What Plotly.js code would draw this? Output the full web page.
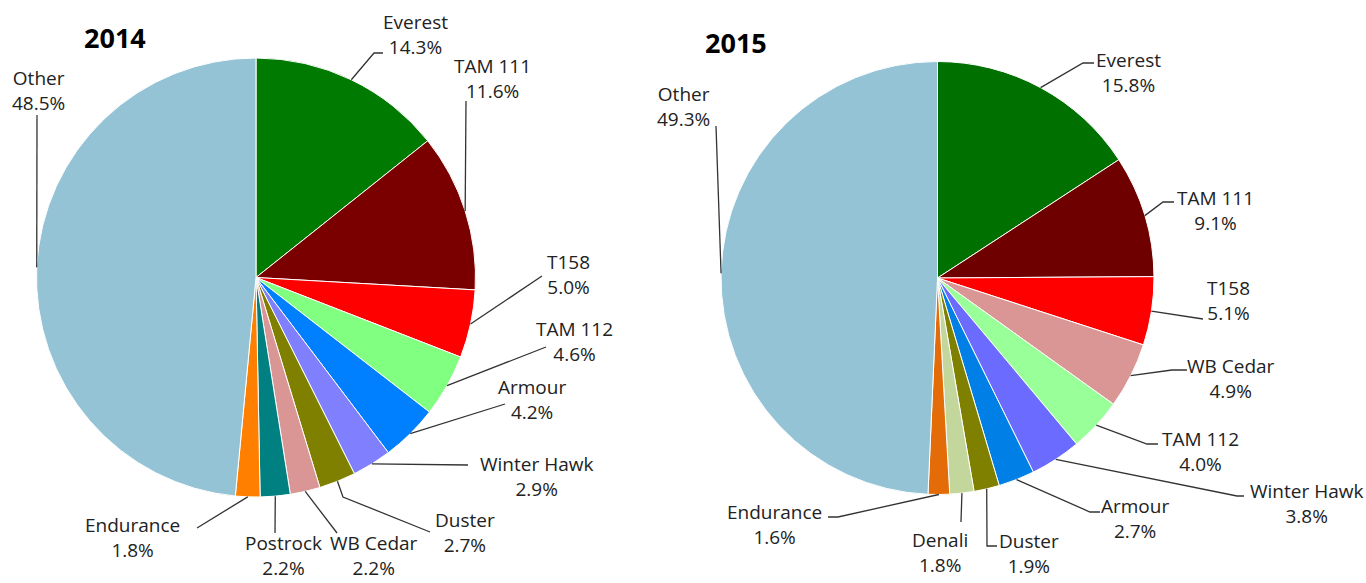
<!DOCTYPE html>
<html>
<head>
<meta charset="utf-8">
<script src="https://cdn.plot.ly/plotly-3.0.1.min.js"></script>
<style>html,body{margin:0;padding:0;background:#fff;}#chart{width:1366px;height:583px;}</style>
</head>
<body>
<div id="chart"></div>
<script>
// ---------- DATA ----------
const labels2014 = ["Everest", "TAM 111", "T158", "TAM 112", "Armour", "Winter Hawk", "Duster", "WB Cedar", "Postrock", "Endurance", "Other"];
const values2014 = [14.3, 11.6, 5.0, 4.6, 4.2, 2.9, 2.7, 2.2, 2.2, 1.8, 48.5];

const labels2015 = ["Everest", "TAM 111", "T158", "WB Cedar", "TAM 112", "Winter Hawk", "Armour", "Duster", "Denali", "Endurance", "Other"];
const values2015 = [15.8, 9.1, 5.1, 4.9, 4.0, 3.8, 2.7, 1.9, 1.8, 1.6, 49.3];

const titles = ["2014", "2015"];

// ---------- STYLE / LAYOUT ----------
const colors2014 = ["#007a00", "#7a0000", "#ff0000", "#80ff80", "#0080ff", "#8080ff", "#808000", "#d99694", "#008080", "#ff8000", "#93c3d5"];
const colors2015 = ["#007000", "#6e0000", "#ff0000", "#d99694", "#99ff99", "#6b6bff", "#0080e6", "#808000", "#c3d69b", "#e36c09", "#93c3d5"];

const W = 1366, H = 583;
const pies = [
  {cx: 256, cy: 277.5, r: 219.5},
  {cx: 937.5, cy: 278, r: 216.5}
];
const titlePos = [[115, 37], [736, 43]];

// label block centres (px) and leader path points after the rim point (px)
const labelLayout2014 = [
  {t: [415, 34],  p: [[374, 53], [383, 53]]},
  {t: [492, 78],  p: [[466, 101]]},
  {t: [568, 274], p: [[542, 276]]},
  {t: [574, 341], p: [[546, 347]]},
  {t: [532, 399], p: [[505, 404]]},
  {t: [536, 476], p: [[468, 465]]},
  {t: [465, 532], p: [[343, 497], [430, 532]]},
  {t: [374, 555], p: [[337, 533]]},
  {t: [283, 555], p: [[275, 533]]},
  {t: [132, 537], p: [[197, 528]]},
  {t: [38, 90],   p: [[37, 115]]}
];
const labelLayout2015 = [
  {t: [1128, 73],  p: [[1083, 63], [1094, 63]]},
  {t: [1215, 210], p: [[1163, 202], [1174, 202]]},
  {t: [1228, 300], p: [[1203, 319]]},
  {t: [1231, 378], p: [[1172, 370], [1187, 370]]},
  {t: [1200, 451], p: [[1147, 444], [1158, 444]]},
  {t: [1306, 503], p: [[1237, 496], [1244, 496]]},
  {t: [1135, 518], p: [[1090, 512], [1100, 512]]},
  {t: [1029, 553], p: [[987, 546], [997, 546]]},
  {t: [940, 552],  p: [[961, 522]]},
  {t: [775, 524],  p: [[838, 517], [828, 517]]},
  {t: [683, 107],  p: [[716, 126]]}
];

const FONT = "Open Sans, Liberation Sans, sans-serif";
const TXT = "#222222";

function fx(x) { return x / W; }
function fy(y) { return 1 - y / H; }

function pieTrace(labels, values, colors, g) {
  return {
    type: "pie",
    labels: labels,
    values: values,
    sort: false,
    direction: "clockwise",
    rotation: 0,
    textinfo: "none",
    hoverinfo: "label+percent",
    marker: {colors: colors, line: {color: "#ffffff", width: 1}},
    domain: {x: [fx(g.cx - g.r), fx(g.cx + g.r)], y: [fy(g.cy + g.r), fy(g.cy - g.r)]},
    showlegend: false
  };
}

const shapes = [];
const annotations = [];

function addLabels(labels, values, g, lay) {
  const total = values.reduce((a, b) => a + b, 0);
  let cum = 0;
  labels.forEach((lab, i) => {
    const mid = (cum + values[i] / 2) / total;
    cum += values[i];
    const ang = mid * 2 * Math.PI;
    const rx = g.cx + g.r * Math.sin(ang);
    const ry = g.cy - g.r * Math.cos(ang);
    const pts = [[rx, ry]].concat(lay[i].p);
    const path = pts.map((q, k) => (k ? "L" : "M") + fx(q[0]).toFixed(5) + "," + fy(q[1]).toFixed(5)).join(" ");
    shapes.push({type: "path", xref: "paper", yref: "paper", path: path, line: {color: "#333333", width: 1.3}});
    const pct = (values[i] / total * 100).toFixed(1) + "%";
    annotations.push({
      xref: "paper", yref: "paper", x: fx(lay[i].t[0]), y: fy(lay[i].t[1]),
      xanchor: "center", yanchor: "middle", align: "center", showarrow: false,
      text: lab + "<br>" + pct,
      font: {family: FONT, size: 19, color: TXT}
    });
  });
}

addLabels(labels2014, values2014, pies[0], labelLayout2014);
addLabels(labels2015, values2015, pies[1], labelLayout2015);

titles.forEach((t, i) => {
  annotations.push({
    xref: "paper", yref: "paper", x: fx(titlePos[i][0]), y: fy(titlePos[i][1]),
    xanchor: "center", yanchor: "middle", showarrow: false,
    text: "<b>" + t + "</b>",
    font: {family: FONT, size: 27, color: "#000000"}
  });
});

const data = [
  pieTrace(labels2014, values2014, colors2014, pies[0]),
  pieTrace(labels2015, values2015, colors2015, pies[1])
];

const layout = {
  width: W, height: H,
  margin: {l: 0, r: 0, t: 0, b: 0},
  paper_bgcolor: "#ffffff",
  plot_bgcolor: "#ffffff",
  shapes: shapes,
  annotations: annotations,
  font: {family: FONT}
};

Plotly.newPlot("chart", data, layout, {displayModeBar: false, staticPlot: true});
</script>
</body>
</html>
